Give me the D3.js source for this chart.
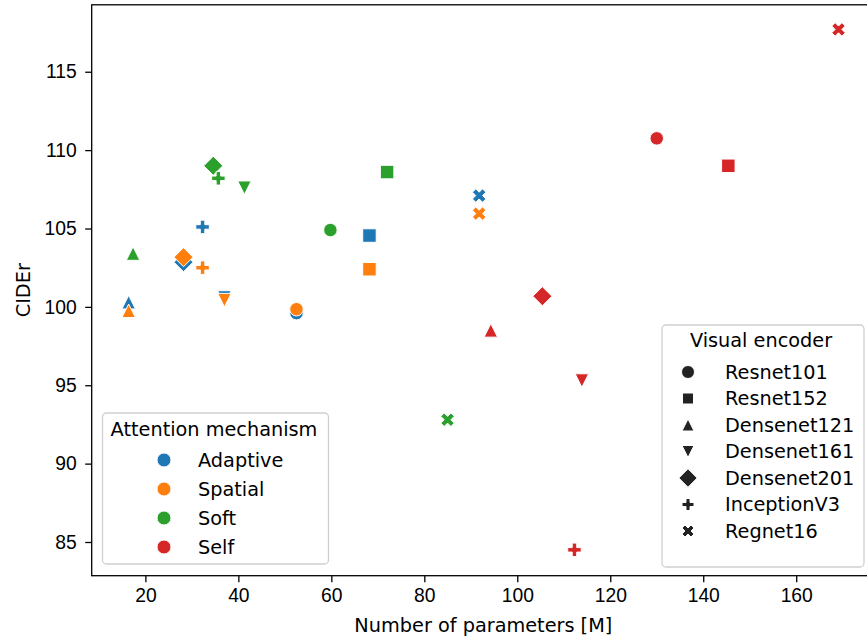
<!DOCTYPE html>
<html>
<head>
<meta charset="utf-8">
<script src="https://cdn.jsdelivr.net/npm/d3@7"></script>
<style>
  html, body { margin: 0; padding: 0; background: #fff; }
  svg { display: block; font-family: "DejaVu Sans", sans-serif; }
  .axis text { font-size: 19.3px; fill: #000; }
  .axis line { stroke: #000; stroke-width: 1.3px; }
  .axis path { display: none; }
  .frame { fill: none; stroke: #000; stroke-width: 1.3px; }
  .legend-box { fill: #fff; fill-opacity: 0.8; stroke: #d0d0d0; stroke-width: 1.3px; }
  .legend text { font-size: 19.3px; fill: #000; }
  .axis-label { font-size: 19.3px; fill: #000; }
</style>
</head>
<body>
<div id="chart"></div>
<script>
// --- Data ---
const mechanisms = ['Adaptive', 'Spatial', 'Soft', 'Self'];
const mechColors = ['#1f77b4', '#ff7f0e', '#2ca02c', '#d62728'];
const encoders = ['Resnet101', 'Resnet152', 'Densenet121', 'Densenet161', 'Densenet201', 'InceptionV3', 'Regnet16'];
const encoderShapes = ['circle', 'square', 'triUp', 'triDown', 'diamond', 'plus', 'cross'];

// number of parameters [M] / CIDEr, one entry per encoder (same order)
const adaptiveParams = [52.5, 68.2, 16.4, 37.0, 28.2, 32.3, 91.8];
const adaptiveCider  = [99.6, 104.55, 100.3, 100.6, 102.85, 105.1, 107.1];
const spatialParams  = [52.5, 68.2, 16.4, 37.0, 28.2, 32.3, 91.8];
const spatialCider   = [99.85, 102.4, 99.75, 100.43, 103.17, 102.5, 105.95];
const softParams     = [59.8, 72.0, 17.35, 41.3, 34.6, 35.7, 85.0];
const softCider      = [104.9, 108.6, 103.4, 107.6, 109.0, 108.2, 92.8];
const selfParams     = [130.0, 145.4, 94.3, 113.9, 105.4, 112.3, 169.1];
const selfCider      = [110.75, 109.0, 98.5, 95.3, 100.68, 84.5, 117.7];

const xTicks = [20, 40, 60, 80, 100, 120, 140, 160];
const yTicks = [85, 90, 95, 100, 105, 110, 115];

const paramsByMech = [adaptiveParams, spatialParams, softParams, selfParams];
const ciderByMech = [adaptiveCider, spatialCider, softCider, selfCider];

// --- Plot sizing ---
const W = 867, H = 641;
const margin = { top: 4.8, left: 91.7 };
const width = 783.3;   // right spine falls just outside the picture
const height = 570.9;

// --- Marker paths (matplotlib style, size u) ---
function markerPath(shape, u) {
  const h = u / 2;
  const poly = pts => 'M' + pts.map(p => p[0] + ',' + p[1]).join('L') + 'Z';
  switch (shape) {
    case 'circle':
      return `M${h},0A${h},${h} 0 1,1 ${-h},0A${h},${h} 0 1,1 ${h},0Z`;
    case 'square':
      return poly([[-h, -h], [h, -h], [h, h], [-h, h]]);
    case 'triUp':
      return poly([[0, -h], [h, h], [-h, h]]);
    case 'triDown':
      return poly([[0, h], [h, -h], [-h, -h]]);
    case 'diamond': {
      const d = u / Math.SQRT2;
      return poly([[0, -d], [d, 0], [0, d], [-d, 0]]);
    }
    case 'plus': {
      const s = u / 6;
      return poly([[-1, -3], [-1, -1], [-3, -1], [-3, 1], [-1, 1], [-1, 3], [1, 3], [1, 1], [3, 1], [3, -1], [1, -1], [1, -3]]
        .map(p => [p[0] * s, p[1] * s]));
    }
    case 'cross': {
      const s = u / 4;
      return poly([[-1, -2], [0, -1], [1, -2], [2, -1], [1, 0], [2, 1], [1, 2], [0, 1], [-1, 2], [-2, 1], [-1, 0], [-2, -1]]
        .map(p => [p[0] * s, p[1] * s]));
    }
  }
}

// build rows for the scatter
const rows = [];
mechanisms.forEach((m, mi) => {
  encoders.forEach((e, ei) => {
    rows.push({ mech: m, encoder: e, params: paramsByMech[mi][ei], cider: ciderByMech[mi][ei] });
  });
});

// --- Scales ---
const x = d3.scaleLinear().domain([8.45, 176.95]).range([0, width]);
const y = d3.scaleLinear().domain([82.85, 119.27]).range([height, 0]);
const color = d3.scaleOrdinal().domain(mechanisms).range(mechColors);
const shape = d3.scaleOrdinal().domain(encoders).range(encoderShapes);

const svg = d3.select('#chart').append('svg')
  .attr('width', W)
  .attr('height', H);

const plot = svg.append('g')
  .attr('transform', `translate(${margin.left},${margin.top})`);

// AXIS
plot.append('g')
  .attr('class', 'axis axis--x')
  .attr('transform', `translate(0,${height})`)
  .call(d3.axisBottom(x).tickValues(xTicks).tickSize(6.5).tickPadding(6.5).tickFormat(d3.format('d')));

plot.append('g')
  .attr('class', 'axis axis--y')
  .call(d3.axisLeft(y).tickValues(yTicks).tickSize(6.5).tickPadding(8.5).tickFormat(d3.format('d')));

plot.append('rect')
  .attr('class', 'frame')
  .attr('x', 0).attr('y', 0)
  .attr('width', width).attr('height', height);

// points
plot.append('g').selectAll('.pt')
  .data(rows)
  .enter().append('path')
  .attr('class', 'pt')
  .attr('transform', d => `translate(${x(d.params)},${y(d.cider)})`)
  .attr('d', d => markerPath(shape(d.encoder), 13.5))
  .style('fill', d => color(d.mech))
  .style('stroke', '#fff')
  .style('stroke-width', 1);

// axis labels
svg.append('text')
  .attr('class', 'axis-label')
  .attr('x', margin.left + width / 2)
  .attr('y', 632)
  .attr('text-anchor', 'middle')
  .text('Number of parameters [M]');

svg.append('text')
  .attr('class', 'axis-label')
  .attr('transform', `translate(23,${margin.top + height / 2}) rotate(-90)`)
  .attr('text-anchor', 'middle')
  .attr('dy', '0.35em')
  .text('CIDEr');

// --- Legend: attention mechanism (lower left) ---
const leg1 = svg.append('g').attr('class', 'legend');
leg1.append('rect').attr('class', 'legend-box')
  .attr('x', 102.5).attr('y', 413).attr('width', 226).attr('height', 151).attr('rx', 4);
leg1.append('text')
  .attr('x', 214).attr('y', 436)
  .attr('text-anchor', 'middle')
  .text('Attention mechanism');
const leg1Items = leg1.selectAll('.item')
  .data(mechanisms)
  .enter().append('g')
  .attr('class', 'item')
  .attr('transform', (d, i) => `translate(0,${460 + i * 29})`);
leg1Items.append('circle')
  .attr('cx', 164).attr('cy', 0).attr('r', 7)
  .style('fill', d => color(d))
  .style('stroke', '#fff').style('stroke-width', 1);
leg1Items.append('text')
  .attr('x', 198).attr('dy', '0.35em')
  .text(d => d);

// --- Legend: visual encoder (lower right) ---
const legendSizes = { circle: 13, square: 11, triUp: 12, triDown: 12, diamond: 13, plus: 12, cross: 12 };
const leg2 = svg.append('g').attr('class', 'legend');
leg2.append('rect').attr('class', 'legend-box')
  .attr('x', 662).attr('y', 325).attr('width', 202).attr('height', 242).attr('rx', 4);
leg2.append('text')
  .attr('x', 761).attr('y', 347)
  .attr('text-anchor', 'middle')
  .text('Visual encoder');
const leg2Items = leg2.selectAll('.item')
  .data(encoders)
  .enter().append('g')
  .attr('class', 'item')
  .attr('transform', (d, i) => `translate(0,${372 + i * 26.5})`);
leg2Items.append('path')
  .attr('transform', 'translate(688,0)')
  .attr('d', d => markerPath(shape(d), legendSizes[shape(d)]))
  .style('fill', '#222')
  .style('stroke', '#fff').style('stroke-width', 1);
leg2Items.append('text')
  .attr('x', 725).attr('dy', '0.35em')
  .text(d => d);
</script>
</body>
</html>
